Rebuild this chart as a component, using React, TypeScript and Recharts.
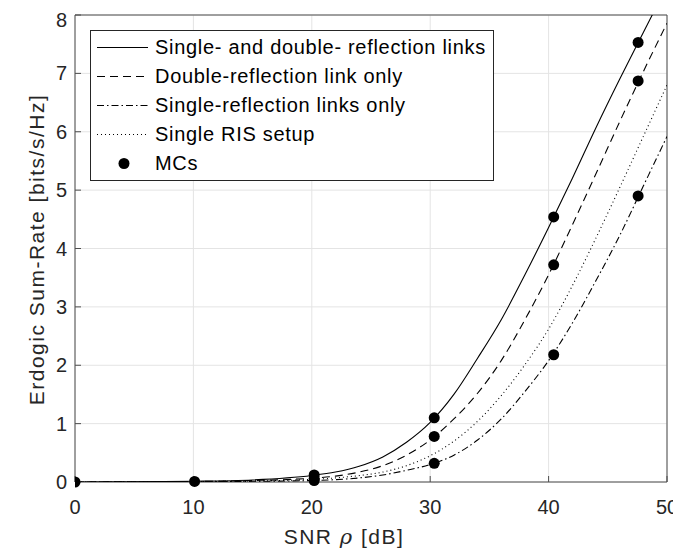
import React from 'react';
import {
  ComposedChart,
  Line,
  Scatter,
  XAxis,
  YAxis,
  CartesianGrid,
  ReferenceArea,
  Legend,
} from 'recharts';

const FONT = '"Liberation Sans", Arial, Helvetica, sans-serif';
const TEXT = '#262626';
const AXIS = '#4d4d4d';

// SNR grid of the analytical curves [dB]
const SNR = [0, 5, 10, 15, 20, 22, 24, 26, 28, 30, 32, 34, 36, 38, 40, 42, 44, 46, 48, 50];
// Single- and double- reflection links (solid)
const BOTH = [0, 0.004, 0.012, 0.035, 0.11, 0.17, 0.27, 0.43, 0.68, 1.02, 1.5, 2.12, 2.78, 3.55, 4.36, 5.2, 6.07, 6.9, 7.7, 8.5];
// Double-reflection link only (dashed)
const DOUBLE = [0, 0.003, 0.009, 0.025, 0.065, 0.1, 0.17, 0.28, 0.46, 0.72, 1.08, 1.52, 2.08, 2.78, 3.55, 4.4, 5.28, 6.17, 7.03, 7.86];
// Single-reflection links only (dash-dot)
const SINGLE = [0, 0.001, 0.005, 0.012, 0.025, 0.04, 0.07, 0.12, 0.2, 0.3, 0.46, 0.72, 1.08, 1.55, 2.08, 2.72, 3.45, 4.22, 5.07, 5.92];
// Single RIS setup (dotted)
const SINGLE_RIS = [0, 0.002, 0.007, 0.018, 0.045, 0.07, 0.11, 0.17, 0.28, 0.45, 0.7, 1.04, 1.48, 2.01, 2.62, 3.36, 4.18, 5.04, 5.92, 6.8];

// Monte-Carlo points
const MC_X = [0, 10.1, 20.2, 20.2, 20.2, 30.34, 30.34, 30.34, 40.43, 40.43, 40.43, 47.56, 47.56, 47.56];
const MC_Y = [0, 0.01, 0.12, 0.06, 0.025, 1.1, 0.78, 0.32, 4.54, 3.72, 2.18, 7.53, 6.87, 4.9];

const X_TICKS = [0, 10, 20, 30, 40, 50];
const Y_TICKS = [0, 1, 2, 3, 4, 5, 6, 7, 8];

const toSeries = (ys: number[]) => SNR.map((x, i) => ({ x, y: ys[i] }));
const bothData = toSeries(BOTH);
const doubleData = toSeries(DOUBLE);
const singleData = toSeries(SINGLE);
const risData = toSeries(SINGLE_RIS);
const mcData = MC_X.map((x, i) => ({ x, y: MC_Y[i] }));

const DASH = '8 5';
const DASHDOT = '7 3 1.5 3';
const DOT = '1 3';

const LEGEND_ITEMS = [
  { label: 'Single- and double- reflection links', dash: undefined as string | undefined, marker: false },
  { label: 'Double-reflection link only', dash: DASH, marker: false },
  { label: 'Single-reflection links only', dash: DASHDOT, marker: false },
  { label: 'Single RIS setup', dash: DOT, marker: false },
  { label: 'MCs', dash: undefined, marker: true },
];

const LegendBox = () => (
  <div
    style={{
      position: 'relative',
      width: 404,
      height: 151,
      border: '1px solid #262626',
      background: '#fff',
      boxSizing: 'border-box',
      fontFamily: FONT,
      fontSize: 20,
      letterSpacing: 0.7,
      color: '#000',
    }}
  >
    {LEGEND_ITEMS.map((it, i) => (
      <div
        key={i}
        style={{
          position: 'absolute',
          left: 0,
          top: 2 + i * 29,
          height: 29,
          display: 'flex',
          alignItems: 'center',
          whiteSpace: 'nowrap',
        }}
      >
        <svg width={64} height={29} style={{ display: 'block' }}>
          {it.marker ? (
            <circle cx={33} cy={14.5} r={5.5} fill="#000" />
          ) : (
            <line x1={6} x2={57} y1={14.5} y2={14.5} stroke="#000" strokeWidth={1.1} strokeDasharray={it.dash} />
          )}
        </svg>
        <span>{it.label}</span>
      </div>
    ))}
  </div>
);

const YLabel = (props: any) => {
  const vb = props.viewBox || { x: 0, y: 7, width: 67, height: 467 };
  const cx = vb.x + 28;
  const cy = vb.y + vb.height / 2 + 1;
  return (
    <text
      x={cx}
      y={cy}
      transform={`rotate(-90, ${cx}, ${cy})`}
      textAnchor="middle"
      dominantBaseline="central"
      fontFamily={FONT}
      fontSize={21}
      letterSpacing={1.5}
      fill={TEXT}
    >
      Erdogic Sum-Rate [bits/s/Hz]
    </text>
  );
};

const XLabel = (props: any) => {
  const vb = props.viewBox || { x: 67, y: 474, width: 592, height: 50 };
  const cx = vb.x + vb.width / 2 - 27;
  const cy = vb.y + 62;
  return (
    <text x={cx} y={cy} textAnchor="middle" fontFamily={FONT} fontSize={21} letterSpacing={1.5} fill={TEXT}>
      SNR <tspan fontStyle="italic" fontFamily='"DejaVu Serif", serif'>ρ</tspan> [dB]
    </text>
  );
};

const tickStyle = { fontFamily: FONT, fontSize: 20, fill: TEXT };

export default function App() {
  return (
    <div style={{ width: 681, height: 541 }}>
      <style>{`html,body{overflow:hidden;}`}</style>
      <ComposedChart
        width={681}
        height={541}
        margin={{ top: 7, right: 22, left: 0, bottom: 17 }}
        style={{ background: '#fff' }}
      >
        <CartesianGrid stroke="#e4e4e4" strokeWidth={1} />
        <XAxis
          type="number"
          dataKey="x"
          domain={[0, 50]}
          ticks={X_TICKS}
          allowDataOverflow
          height={50}
          tickSize={-6}
          tickMargin={24}
          axisLine={false}
          tickLine={{ stroke: AXIS }}
          tick={tickStyle}
          label={<XLabel />}
        />
        <XAxis
          xAxisId="top"
          orientation="top"
          type="number"
          dataKey="x"
          domain={[0, 50]}
          ticks={X_TICKS}
          height={0}
          tickSize={-6}
          tick={false}
          axisLine={false}
          tickLine={{ stroke: AXIS }}
        />
        <YAxis
          type="number"
          dataKey="y"
          domain={[0, 8]}
          ticks={Y_TICKS}
          allowDataOverflow
          width={67}
          tickSize={-6}
          tickMargin={14}
          axisLine={false}
          tickLine={{ stroke: AXIS }}
          tick={tickStyle}
          label={<YLabel />}
        />
        <YAxis
          yAxisId="r"
          orientation="right"
          type="number"
          dataKey="y"
          domain={[0, 8]}
          ticks={Y_TICKS}
          width={0}
          tickSize={-6}
          tick={false}
          axisLine={false}
          tickLine={{ stroke: AXIS }}
        />
        <Line data={risData} dataKey="y" type="monotone" stroke="#000" strokeWidth={1.1} strokeDasharray={DOT} dot={false} activeDot={false} isAnimationActive={false} name="Single RIS setup" />
        <Line data={singleData} dataKey="y" type="monotone" stroke="#000" strokeWidth={1.1} strokeDasharray={DASHDOT} dot={false} activeDot={false} isAnimationActive={false} name="Single-reflection links only" />
        <Line data={doubleData} dataKey="y" type="monotone" stroke="#000" strokeWidth={1.1} strokeDasharray={DASH} dot={false} activeDot={false} isAnimationActive={false} name="Double-reflection link only" />
        <Line data={bothData} dataKey="y" type="monotone" stroke="#000" strokeWidth={1.1} dot={false} activeDot={false} isAnimationActive={false} name="Single- and double- reflection links" />
        <Scatter
          data={mcData}
          yAxisId="r"
          dataKey="y"
          fill="#000"
          isAnimationActive={false}
          name="MCs"
          shape={(p: any) => <circle cx={p.cx} cy={p.cy} r={5.5} fill="#000" />}
        />
        <ReferenceArea x1={0} x2={50} y1={0} y2={8} fill="none" stroke={AXIS} strokeWidth={1} ifOverflow="visible" />
        <Legend
          layout="vertical"
          align="center"
          verticalAlign="middle"
          content={() => <LegendBox />}
          wrapperStyle={{ position: 'absolute', left: 82, top: 22, width: 404, height: 151 }}
        />
      </ComposedChart>
    </div>
  );
}
